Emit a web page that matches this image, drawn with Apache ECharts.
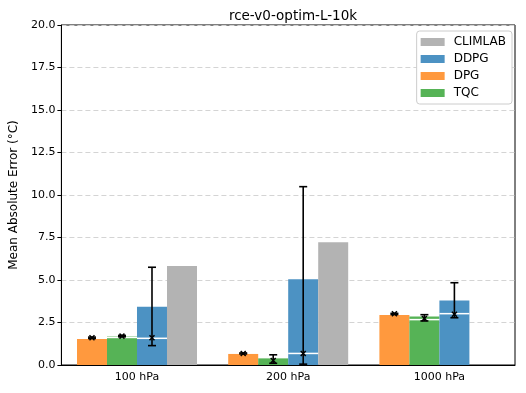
<!DOCTYPE html>
<html>
<head>
<meta charset="utf-8">
<script src="https://cdn.jsdelivr.net/npm/echarts@6/dist/echarts.min.js"></script>
<style>
  html, body { margin: 0; padding: 0; background: #fff; }
  #chart { width: 526px; height: 393px; }
</style>
</head>
<body>
<div id="chart"></div>
<script>
  // categories and algorithms
  var categories = ['100 hPa', '200 hPa', '1000 hPa'];
  var algos = ['DPG', 'TQC', 'DDPG', 'CLIMLAB'];

  // bar heights (mean absolute error)
  var dpgMean = [1.53, 0.65, 2.94];
  var tqcMean = [1.68, 0.39, 2.86];
  var ddpgMean = [3.43, 5.04, 3.80];
  var climlabMean = [5.82, 7.22, null];

  // error bars: low, high, marker, white line (null = none)
  var dpgLow = [1.56, 0.65, 2.97];
  var dpgHigh = [1.64, 0.71, 3.04];
  var dpgMark = [1.60, 0.68, 3.01];
  var dpgMid = [null, null, null];

  var tqcLow = [1.66, 0.10, 2.59];
  var tqcHigh = [1.74, 0.60, 2.96];
  var tqcMark = [1.70, 0.27, 2.74];
  var tqcMid = [1.62, null, 2.67];

  var ddpgLow = [1.14, 0.05, 2.78];
  var ddpgHigh = [5.75, 10.49, 4.84];
  var ddpgMark = [1.60, 0.68, 2.98];
  var ddpgMid = [1.57, 0.68, 3.02];

  var yTicks = ['0.0', '2.5', '5.0', '7.5', '10.0', '12.5', '15.0', '17.5', '20.0'];

  var colors = {
    DPG: '#ff993e',
    TQC: '#56b356',
    DDPG: '#4c92c3',
    CLIMLAB: '#b3b3b3'
  };

  var barW = 30;
  var offsets = { DPG: -45, TQC: -15, DDPG: 15, CLIMLAB: 45 };

  function errData(low, high, mark, mid) {
    return categories.map(function (c, i) {
      return [i, low[i], high[i], mark[i], mid[i] == null ? '-' : mid[i]];
    });
  }

  function makeRender(dx) {
    return function (params, api) {
      var cat = api.value(0);
      var lo = api.coord([cat, api.value(1)]);
      var hi = api.coord([cat, api.value(2)]);
      var mk = api.coord([cat, api.value(3)]);
      var x = lo[0] + dx;
      var children = [];
      var mid = api.value(4);
      if (!isNaN(mid)) {
        var md = api.coord([cat, mid]);
        children.push({
          type: 'line',
          shape: { x1: x - barW / 2, y1: md[1], x2: x + barW / 2, y2: md[1] },
          style: { stroke: '#fff', lineWidth: 1.5 }
        });
      }
      var cap = 4;
      var ln = { stroke: '#000', lineWidth: 1.6 };
      children.push({ type: 'line', shape: { x1: x, y1: lo[1], x2: x, y2: hi[1] }, style: ln });
      children.push({ type: 'line', shape: { x1: x - cap, y1: lo[1], x2: x + cap, y2: lo[1] }, style: ln });
      children.push({ type: 'line', shape: { x1: x - cap, y1: hi[1], x2: x + cap, y2: hi[1] }, style: ln });
      var m = 2.5;
      children.push({
        type: 'line',
        shape: { x1: x - m, y1: mk[1] - m, x2: x + m, y2: mk[1] + m },
        style: { stroke: '#000', lineWidth: 1.5 }
      });
      children.push({
        type: 'line',
        shape: { x1: x - m, y1: mk[1] + m, x2: x + m, y2: mk[1] - m },
        style: { stroke: '#000', lineWidth: 1.5 }
      });
      return { type: 'group', children: children };
    };
  }

  function barSeries(name, data) {
    return {
      name: name,
      type: 'bar',
      data: data,
      barWidth: barW,
      barGap: '0%',
      itemStyle: { color: colors[name] },
      emphasis: { disabled: true },
      z: 2
    };
  }

  function errSeries(name, low, high, mark, mid) {
    return {
      name: name + ' err',
      type: 'custom',
      renderItem: makeRender(offsets[name]),
      data: errData(low, high, mark, mid),
      encode: { x: 0, y: [1, 2, 3] },
      z: 5,
      silent: true
    };
  }

  var chart = echarts.init(document.getElementById('chart'));
  chart.setOption({
    animation: false,
    textStyle: { fontFamily: 'DejaVu Sans' },
    title: {
      text: 'rce-v0-optim-L-10k',
      left: 288,
      textAlign: 'center',
      top: 4,
      textStyle: { fontSize: 13.5, fontWeight: 'normal', color: '#000', fontFamily: 'DejaVu Sans' }
    },
    legend: {
      data: ['CLIMLAB', 'DDPG', 'DPG', 'TQC'],
      orient: 'vertical',
      right: 14,
      top: 31,
      itemWidth: 24,
      itemHeight: 8,
      itemGap: 5,
      padding: [5, 6, 5, 4],
      borderColor: '#cccccc',
      borderWidth: 1,
      borderRadius: 3,
      backgroundColor: '#fff',
      selectedMode: false,
      textStyle: { fontSize: 12, color: '#000', fontFamily: 'DejaVu Sans', padding: [0, 0, 0, 4] },
      icon: 'rect'
    },
    grid: {
      left: 60,
      right: 11,
      top: 25,
      bottom: 28,
      show: true,
      borderColor: '#000',
      borderWidth: 1
    },
    xAxis: {
      type: 'category',
      data: categories,
      axisLine: { lineStyle: { color: '#000' } },
      axisTick: { alignWithLabel: true, length: 4, lineStyle: { color: '#000' } },
      axisLabel: { fontSize: 11, color: '#000', margin: 7 },
      splitLine: { show: false }
    },
    yAxis: {
      type: 'value',
      min: 0,
      max: 20,
      interval: 2.5,
      name: 'Mean Absolute Error (°C)',
      nameLocation: 'middle',
      nameGap: 40,
      nameTextStyle: { fontSize: 12, color: '#000' },
      axisLine: { show: true, lineStyle: { color: '#000' } },
      axisTick: { show: true, length: 4, lineStyle: { color: '#000' } },
      axisLabel: {
        fontSize: 11, color: '#000', margin: 6,
        formatter: function (v) { return yTicks[Math.round(v / 2.5)]; }
      },
      splitLine: { show: true, lineStyle: { color: '#d4d4d4', type: [5, 3] } }
    },
    series: [
      barSeries('DPG', dpgMean),
      barSeries('TQC', tqcMean),
      barSeries('DDPG', ddpgMean),
      barSeries('CLIMLAB', climlabMean),
      errSeries('DPG', dpgLow, dpgHigh, dpgMark, dpgMid),
      errSeries('TQC', tqcLow, tqcHigh, tqcMark, tqcMid),
      errSeries('DDPG', ddpgLow, ddpgHigh, ddpgMark, ddpgMid)
    ]
  });
</script>
</body>
</html>
